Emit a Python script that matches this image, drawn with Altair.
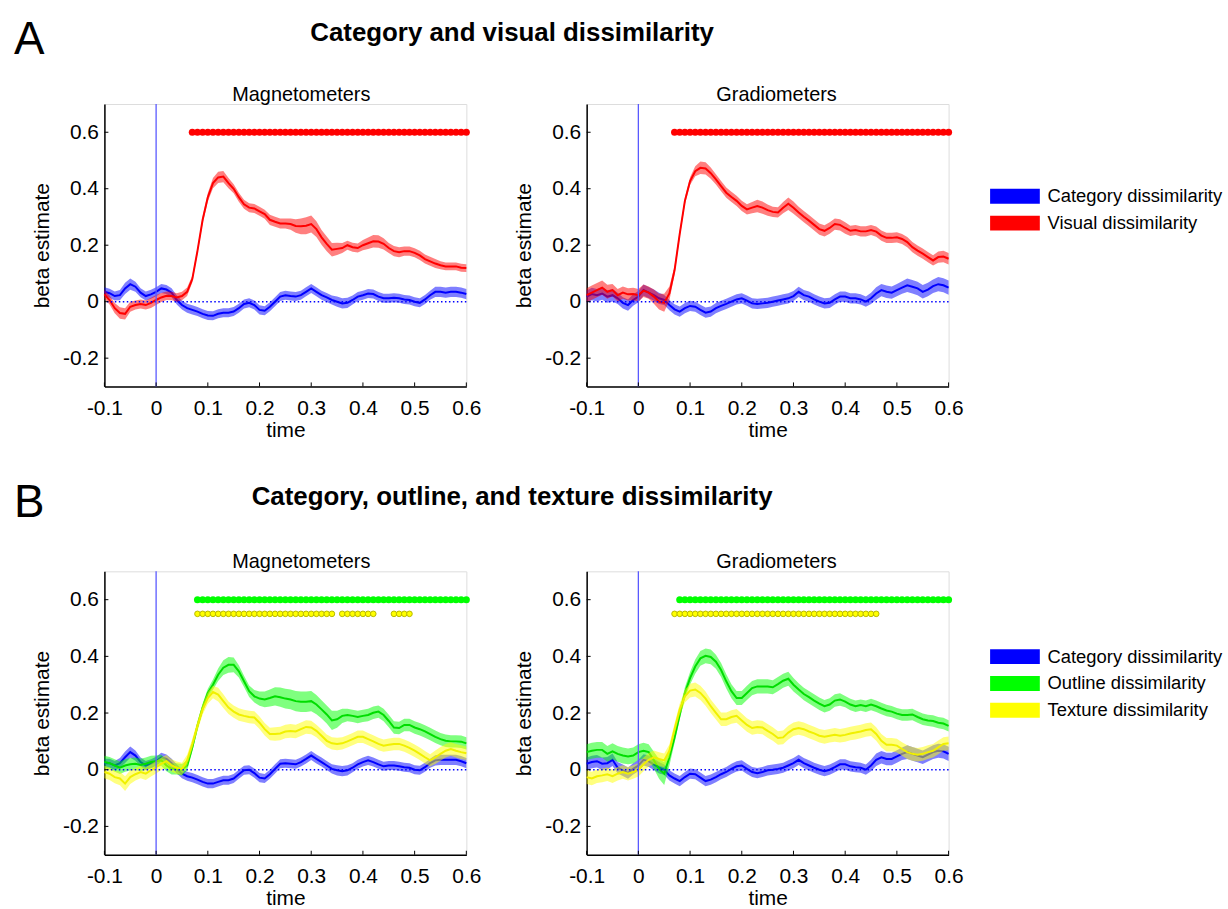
import altair as alt
import pandas as pd

# time grid (s)
T = [round(-0.10 + 0.01 * i, 2) for i in range(71)]

# ---------------- Panel A, magnetometers ----------------
A_MAG_CAT = [0.035, 0.030, 0.020, 0.023, 0.047, 0.062, 0.053, 0.032, 0.020, 0.026,
             0.035, 0.047, 0.043, 0.032, 0.006, -0.012, -0.023, -0.029, -0.035, -0.043,
             -0.049, -0.050, -0.043, -0.039, -0.039, -0.035, -0.023, -0.008, -0.004, -0.012,
             -0.029, -0.032, -0.018, 0.000, 0.018, 0.023, 0.020, 0.018, 0.023, 0.035,
             0.047, 0.035, 0.023, 0.015, 0.006, 0.000, -0.006, -0.004, 0.006, 0.018,
             0.023, 0.029, 0.027, 0.018, 0.012, 0.012, 0.014, 0.012, 0.008, 0.006,
             0.000, -0.004, 0.008, 0.023, 0.035, 0.035, 0.032, 0.035, 0.035, 0.032,
             0.027]
HW_A_MAG_CAT = [.016, .016, .016, .018, .020, .020, .018, .016, .016, .016,
                .016, .016, .016, .016, .016, .016, .016, .016, .016, .016,
                .016, .016, .016, .016, .016, .016, .016, .016, .016, .016,
                .016, .016, .016, .016, .016, .016, .016, .016, .016, .016,
                .016, .016, .016, .016, .016, .018, .018, .018, .016, .016,
                .016, .016, .016, .016, .016, .016, .016, .016, .016, .016,
                .016, .016, .016, .016, .018, .018, .018, .018, .018, .018,
                .018]
A_MAG_VIS = [0.026, 0.006, -0.023, -0.040, -0.043, -0.018, -0.012, -0.008, -0.012, -0.004,
             0.006, 0.015, 0.021, 0.020, 0.015, 0.020, 0.035, 0.080, 0.180, 0.290,
             0.370, 0.420, 0.440, 0.443, 0.420, 0.400, 0.370, 0.345, 0.333, 0.330,
             0.320, 0.310, 0.290, 0.283, 0.277, 0.277, 0.275, 0.268, 0.267, 0.269,
             0.275, 0.257, 0.228, 0.205, 0.184, 0.187, 0.190, 0.200, 0.193, 0.190,
             0.200, 0.207, 0.214, 0.213, 0.205, 0.190, 0.179, 0.175, 0.179, 0.179,
             0.173, 0.164, 0.151, 0.143, 0.135, 0.129, 0.125, 0.125, 0.125, 0.120,
             0.119]
HW_A_MAG_VIS = [.015, .016, .018, .020, .020, .018, .016, .016, .016, .018,
                .018, .016, .015, .015, .015, .015, .015, .012, .010, .012,
                .015, .018, .020, .020, .018, .016, .016, .016, .016, .016,
                .016, .016, .018, .018, .018, .018, .020, .024, .028, .030,
                .030, .028, .026, .026, .024, .022, .018, .016, .016, .016,
                .018, .020, .022, .022, .020, .018, .018, .018, .016, .016,
                .016, .016, .016, .016, .016, .014, .014, .014, .014, .014,
                .014]

# ---------------- Panel A, gradiometers ----------------
A_GRAD_CAT = [0.018, 0.027, 0.023, 0.029, 0.018, 0.023, 0.012, -0.004, -0.012, 0.006,
              0.018, 0.041, 0.032, 0.023, 0.012, 0.006, -0.012, -0.027, -0.035, -0.023,
              -0.015, -0.018, -0.029, -0.039, -0.035, -0.023, -0.015, -0.008, 0.000, 0.008,
              0.012, 0.004, -0.006, -0.008, -0.006, -0.004, 0.000, 0.004, 0.008, 0.012,
              0.020, 0.035, 0.023, 0.018, 0.008, 0.000, -0.006, -0.004, 0.008, 0.018,
              0.018, 0.012, 0.012, 0.008, 0.000, 0.012, 0.029, 0.041, 0.035, 0.032,
              0.041, 0.050, 0.058, 0.053, 0.047, 0.035, 0.043, 0.055, 0.062, 0.058,
              0.050]
HW_A_GRAD_CAT = [.022, .022, .022, .022, .022, .022, .020, .020, .020, .020,
                 .020, .020, .020, .020, .020, .018, .018, .018, .018, .018,
                 .018, .018, .018, .018, .018, .018, .018, .018, .018, .018,
                 .018, .018, .018, .018, .018, .018, .018, .018, .018, .018,
                 .018, .018, .018, .018, .018, .018, .018, .018, .018, .018,
                 .018, .018, .018, .018, .018, .020, .022, .022, .022, .022,
                 .022, .022, .024, .024, .024, .024, .024, .024, .025, .025,
                 .025]
A_GRAD_VIS = [0.023, 0.032, 0.041, 0.050, 0.035, 0.041, 0.023, 0.032, 0.026, 0.027,
              0.023, 0.039, 0.032, 0.018, 0.000, -0.004, 0.029, 0.111, 0.240, 0.357,
              0.427, 0.462, 0.474, 0.472, 0.455, 0.433, 0.409, 0.386, 0.371, 0.357,
              0.339, 0.327, 0.333, 0.339, 0.333, 0.324, 0.318, 0.316, 0.333, 0.347,
              0.333, 0.316, 0.301, 0.287, 0.272, 0.257, 0.251, 0.261, 0.275, 0.272,
              0.261, 0.251, 0.254, 0.249, 0.249, 0.254, 0.248, 0.234, 0.226, 0.226,
              0.228, 0.222, 0.211, 0.193, 0.181, 0.170, 0.158, 0.146, 0.158, 0.160,
              0.152]
HW_A_GRAD_VIS = [.025, .025, .025, .025, .025, .022, .022, .022, .022, .022,
                 .022, .022, .022, .025, .028, .032, .025, .015, .012, .012,
                 .014, .018, .022, .022, .020, .018, .018, .018, .018, .018,
                 .018, .018, .020, .022, .022, .020, .018, .018, .020, .022,
                 .022, .020, .020, .020, .020, .020, .020, .020, .020, .020,
                 .020, .018, .018, .018, .018, .018, .018, .018, .018, .018,
                 .018, .018, .018, .018, .018, .018, .018, .018, .020, .020,
                 .020]

# ---------------- Panel B, magnetometers ----------------
B_MAG_CAT = [0.023, 0.023, 0.015, 0.023, 0.044, 0.062, 0.050, 0.027, 0.015, 0.021,
             0.030, 0.044, 0.038, 0.023, 0.003, -0.014, -0.023, -0.028, -0.035, -0.043,
             -0.049, -0.049, -0.043, -0.037, -0.037, -0.031, -0.016, -0.002, 0.000, -0.012,
             -0.028, -0.031, -0.016, 0.003, 0.021, 0.023, 0.021, 0.019, 0.027, 0.038,
             0.050, 0.038, 0.027, 0.015, 0.003, -0.002, -0.005, -0.002, 0.007, 0.019,
             0.027, 0.033, 0.027, 0.019, 0.012, 0.015, 0.015, 0.012, 0.009, 0.007,
             0.000, -0.002, 0.009, 0.023, 0.033, 0.035, 0.035, 0.035, 0.035, 0.030,
             0.023]
HW_B_MAG_CAT = HW_A_MAG_CAT
B_MAG_OUT = [0.027, 0.023, 0.015, 0.007, 0.015, 0.019, 0.021, 0.017, 0.021, 0.027,
             0.030, 0.033, 0.015, 0.003, 0.003, 0.000, 0.015, 0.079, 0.155, 0.219,
             0.271, 0.300, 0.335, 0.360, 0.370, 0.370, 0.347, 0.312, 0.277, 0.259,
             0.251, 0.248, 0.253, 0.259, 0.256, 0.251, 0.248, 0.242, 0.240, 0.240,
             0.242, 0.230, 0.213, 0.195, 0.174, 0.178, 0.190, 0.193, 0.190, 0.186,
             0.190, 0.193, 0.201, 0.205, 0.193, 0.172, 0.149, 0.147, 0.158, 0.158,
             0.149, 0.143, 0.135, 0.126, 0.116, 0.108, 0.102, 0.100, 0.100, 0.099,
             0.093]
HW_B_MAG_OUT = [.022, .022, .022, .022, .022, .022, .022, .022, .022, .022,
                .020, .020, .020, .020, .020, .020, .018, .015, .015, .015,
                .015, .018, .022, .026, .028, .026, .022, .020, .020, .022,
                .025, .028, .030, .032, .034, .035, .035, .036, .036, .036,
                .036, .034, .032, .032, .034, .030, .025, .022, .022, .022,
                .022, .022, .022, .022, .022, .022, .022, .022, .022, .022,
                .022, .022, .022, .022, .022, .022, .022, .022, .022, .022,
                .022]
B_MAG_TEX = [-0.008, -0.014, -0.026, -0.031, -0.049, -0.026, -0.016, -0.008, -0.014, -0.002,
             0.009, 0.021, 0.030, 0.015, 0.007, 0.003, 0.033, 0.091, 0.155, 0.213,
             0.253, 0.274, 0.265, 0.242, 0.219, 0.205, 0.195, 0.190, 0.186, 0.184,
             0.166, 0.143, 0.126, 0.126, 0.128, 0.135, 0.137, 0.135, 0.143, 0.151,
             0.149, 0.137, 0.120, 0.102, 0.093, 0.091, 0.093, 0.100, 0.108, 0.116,
             0.116, 0.108, 0.100, 0.091, 0.085, 0.088, 0.091, 0.091, 0.085, 0.077,
             0.067, 0.056, 0.044, 0.033, 0.044, 0.056, 0.067, 0.073, 0.067, 0.062,
             0.058]
HW_B_MAG_TEX = [.022, .022, .022, .024, .026, .024, .022, .022, .022, .022,
                .022, .022, .022, .022, .022, .022, .020, .018, .018, .018,
                .020, .022, .024, .024, .022, .022, .022, .022, .022, .022,
                .022, .022, .022, .024, .024, .024, .024, .024, .024, .024,
                .024, .022, .022, .022, .022, .022, .022, .022, .022, .022,
                .022, .022, .022, .022, .022, .022, .022, .022, .022, .022,
                .022, .022, .022, .022, .024, .024, .024, .024, .024, .024,
                .024]

# ---------------- Panel B, gradiometers ----------------
B_GRAD_CAT = [0.021, 0.027, 0.030, 0.021, 0.023, 0.035, 0.007, -0.002, -0.012, 0.003,
              0.015, 0.035, 0.030, 0.019, 0.007, 0.000, -0.020, -0.031, -0.040, -0.026,
              -0.014, -0.016, -0.028, -0.040, -0.035, -0.026, -0.016, -0.008, 0.003, 0.012,
              0.015, 0.003, -0.008, -0.012, -0.008, -0.002, 0.000, 0.003, 0.007, 0.015,
              0.023, 0.035, 0.023, 0.015, 0.007, 0.000, -0.005, 0.000, 0.009, 0.019,
              0.019, 0.012, 0.009, 0.007, 0.000, 0.015, 0.035, 0.044, 0.038, 0.038,
              0.047, 0.056, 0.062, 0.056, 0.050, 0.044, 0.053, 0.062, 0.067, 0.065,
              0.056]
HW_B_GRAD_CAT = HW_A_GRAD_CAT
B_GRAD_OUT = [0.062, 0.067, 0.070, 0.070, 0.056, 0.065, 0.056, 0.050, 0.047, 0.050,
              0.062, 0.067, 0.062, 0.033, 0.003, -0.014, 0.044, 0.114, 0.195, 0.271,
              0.323, 0.364, 0.393, 0.402, 0.398, 0.381, 0.352, 0.312, 0.277, 0.253,
              0.253, 0.271, 0.288, 0.294, 0.294, 0.294, 0.291, 0.302, 0.314, 0.321,
              0.300, 0.283, 0.267, 0.256, 0.244, 0.233, 0.224, 0.230, 0.244, 0.248,
              0.240, 0.230, 0.224, 0.228, 0.224, 0.230, 0.224, 0.216, 0.209, 0.205,
              0.198, 0.193, 0.193, 0.195, 0.186, 0.178, 0.174, 0.172, 0.166, 0.163,
              0.155]
HW_B_GRAD_OUT = [.028, .028, .028, .028, .028, .028, .028, .028, .028, .028,
                 .028, .028, .028, .030, .035, .040, .030, .020, .018, .020,
                 .022, .025, .026, .026, .026, .025, .025, .025, .025, .025,
                 .025, .025, .025, .025, .025, .025, .025, .025, .025, .025,
                 .024, .022, .022, .022, .022, .022, .022, .022, .022, .022,
                 .020, .020, .020, .020, .020, .020, .020, .020, .020, .020,
                 .020, .020, .020, .020, .020, .020, .020, .020, .020, .020,
                 .020]
B_GRAD_TEX = [-0.026, -0.031, -0.023, -0.020, -0.016, -0.023, -0.014, -0.008, -0.014, -0.008,
              0.000, 0.019, 0.035, 0.044, 0.038, 0.033, 0.067, 0.143, 0.213, 0.259,
              0.279, 0.283, 0.271, 0.251, 0.224, 0.201, 0.178, 0.178, 0.186, 0.190,
              0.174, 0.158, 0.147, 0.151, 0.149, 0.137, 0.126, 0.112, 0.114, 0.131,
              0.143, 0.147, 0.143, 0.135, 0.128, 0.120, 0.116, 0.120, 0.123, 0.120,
              0.123, 0.128, 0.131, 0.135, 0.140, 0.143, 0.126, 0.102, 0.088, 0.088,
              0.085, 0.073, 0.062, 0.056, 0.053, 0.056, 0.062, 0.067, 0.079, 0.091,
              0.093]
HW_B_GRAD_TEX = [.024, .024, .024, .024, .024, .024, .024, .024, .024, .024,
                 .024, .024, .024, .024, .024, .024, .022, .020, .020, .022,
                 .024, .025, .025, .025, .024, .024, .024, .024, .024, .024,
                 .024, .024, .024, .024, .024, .024, .024, .024, .024, .024,
                 .024, .024, .024, .024, .024, .024, .024, .024, .024, .024,
                 .024, .024, .024, .024, .024, .024, .024, .024, .024, .024,
                 .024, .024, .024, .024, .024, .024, .024, .024, .024, .024,
                 .024]

# significant time windows (start, end) in s
SIG_A_MAG_VIS = [(0.07, 0.60)]
SIG_A_GRAD_VIS = [(0.07, 0.60)]
SIG_B_MAG_OUT = [(0.08, 0.60)]
SIG_B_MAG_TEX = [(0.08, 0.34), (0.36, 0.42), (0.46, 0.49)]
SIG_B_GRAD_OUT = [(0.08, 0.60)]
SIG_B_GRAD_TEX = [(0.07, 0.46)]

X_TICKS = [-0.1, 0.0, 0.1, 0.2, 0.3, 0.4, 0.5, 0.6]
Y_TICKS = [-0.2, 0.0, 0.2, 0.4, 0.6]

CAT, VIS, OUT, TEX = ("Category dissimilarity", "Visual dissimilarity",
                      "Outline dissimilarity", "Texture dissimilarity")
BAND_COL = {CAT: "#0000ff", VIS: "#ff0000", OUT: "#00ff00", TEX: "#ffff00"}
LINE_COL = {CAT: "#0000ff", VIS: "#ff0000", OUT: "#00dd00", TEX: "#f0f000"}

FONT = "Liberation Sans"
W = 364

LABEL_EXPR = ("datum.value == 0 ? '0' : (datum.value < 0 ? '-' + format(-datum.value, '.1f')"
              " : format(datum.value, '.1f'))")


def sig_times(windows):
    out = []
    for t in T:
        for a, b in windows:
            if a - 1e-9 <= t <= b + 1e-9:
                out.append(t)
    return out


def panel(series, dots, H, title_text, title_dx, row_domain, legend_xy, extra_text=None):
    xs = alt.Scale(domain=[-0.1, 0.6], nice=False, zero=False)
    ys = alt.Scale(domain=[-0.3, 0.7], nice=False, zero=False)
    xaxis = alt.Axis(values=X_TICKS, labelExpr=LABEL_EXPR, ticks=False, tickSize=0, grid=False,
                     title="time", titleX=W / 2, titleY=50, titleBaseline="alphabetic",
                     titleAlign="center", labelPadding=28, labelBaseline="alphabetic",
                     labelFlush=False, labelOverlap=False)
    yaxis = alt.Axis(values=Y_TICKS, labelExpr=LABEL_EXPR, ticks=False, tickSize=0, grid=False,
                     title="beta estimate", titleX=-56, titleY=H / 2, titleAngle=270,
                     titleBaseline="alphabetic", titleAlign="center", labelPadding=6,
                     labelAlign="right", labelBaseline="middle", labelFlush=False,
                     labelOverlap=False)
    legend = alt.Legend(title=None, orient="none", legendX=legend_xy[0], legendY=legend_xy[1],
                        symbolType="M-3.333,-1H3.333V1H-3.333Z", symbolSize=225,
                        symbolOpacity=1, symbolStrokeWidth=0, labelFontSize=18.5,
                        labelFont=FONT, labelColor="black", labelOffset=23.5, rowPadding=8,
                        padding=0, labelLimit=400)
    cscale = alt.Scale(domain=row_domain, range=[BAND_COL[s] for s in row_domain])

    layers = []
    first = True
    for name, mean, hw in series:
        df = pd.DataFrame({"t": T, "m": mean,
                           "lo": [m - h for m, h in zip(mean, hw)],
                           "hi": [m + h for m, h in zip(mean, hw)],
                           "series": name})
        if first:
            xenc = alt.X("t:Q", scale=xs, axis=xaxis)
            yenc = alt.Y("lo:Q", scale=ys, axis=yaxis)
            first = False
        else:
            xenc = alt.X("t:Q", scale=xs)
            yenc = alt.Y("lo:Q", scale=ys)
        band = alt.Chart(df).mark_area(opacity=0.5).encode(
            x=xenc, y=yenc, y2="hi:Q",
            color=alt.Color("series:N", scale=cscale, legend=legend))
        line = alt.Chart(df).mark_line(color=LINE_COL[name], strokeWidth=2).encode(
            x=alt.X("t:Q", scale=xs), y=alt.Y("m:Q", scale=ys))
        layers += [band, line]

    zero = alt.Chart(pd.DataFrame({"v": [0.0]})).mark_rule(
        color="#0000ff", strokeWidth=1.5, strokeDash=[1.5, 2.5]).encode(y=alt.Y("v:Q", scale=ys))
    vline = alt.Chart(pd.DataFrame({"v": [0.0]})).mark_rule(
        color="#5a5aff", strokeWidth=1.3).encode(x=alt.X("v:Q", scale=xs))
    layers += [zero, vline]

    for times, level, kind in dots:
        ddf = pd.DataFrame({"t": times, "y": [level] * len(times)})
        if kind == TEX:
            mk = alt.Chart(ddf).mark_circle(size=32, opacity=1, color="#ffff00",
                                            stroke="#b8b800", strokeWidth=1)
        else:
            mk = alt.Chart(ddf).mark_circle(size=50, opacity=1, color=BAND_COL[kind])
        layers.append(mk.encode(x=alt.X("t:Q", scale=xs), y=alt.Y("y:Q", scale=ys)))

    xt = alt.Chart(pd.DataFrame({"v": X_TICKS})).mark_rule(color="black", strokeWidth=1).encode(
        x=alt.X("v:Q", scale=xs), y=alt.value(H), y2=alt.value(H - 4))
    yt = alt.Chart(pd.DataFrame({"v": Y_TICKS})).mark_rule(color="black", strokeWidth=1).encode(
        y=alt.Y("v:Q", scale=ys), x=alt.value(0), x2=alt.value(4))
    layers += [xt, yt]

    ttl = alt.Chart(pd.DataFrame({"s": [title_text]})).mark_text(
        font=FONT, fontSize=20, align="center", baseline="alphabetic", color="black").encode(
        text="s:N", x=alt.value(W / 2 + title_dx), y=alt.value(-3))
    layers.append(ttl)

    if extra_text:
        for txt, x, y, size, weight, align in extra_text:
            layers.append(alt.Chart(pd.DataFrame({"s": [txt]})).mark_text(
                font=FONT, fontSize=size, fontWeight=weight, align=align,
                baseline="alphabetic", color="black").encode(
                text="s:N", x=alt.value(x), y=alt.value(y)))

    return alt.layer(*layers).properties(width=W, height=H)


HA, HB = 284, 285
LEG_A = (906.5, 83.5)
LEG_B = (906.5, 76.5)

a_left = panel([(CAT, A_MAG_CAT, HW_A_MAG_CAT), (VIS, A_MAG_VIS, HW_A_MAG_VIS)],
               [(sig_times(SIG_A_MAG_VIS), 0.6, VIS)], HA, "Magnetometers", 16, [CAT, VIS], LEG_A,
               extra_text=[("A", -91, -50, 46, "normal", "left"),
                           ("Category and visual dissimilarity", 410, -63, 26, "bold", "center")])
a_right = panel([(CAT, A_GRAD_CAT, HW_A_GRAD_CAT), (VIS, A_GRAD_VIS, HW_A_GRAD_VIS)],
                [(sig_times(SIG_A_GRAD_VIS), 0.6, VIS)], HA, "Gradiometers", 9, [CAT, VIS], LEG_A)
b_left = panel([(CAT, B_MAG_CAT, HW_B_MAG_CAT), (OUT, B_MAG_OUT, HW_B_MAG_OUT),
                (TEX, B_MAG_TEX, HW_B_MAG_TEX)],
               [(sig_times(SIG_B_MAG_OUT), 0.6, OUT), (sig_times(SIG_B_MAG_TEX), 0.55, TEX)],
               HB, "Magnetometers", 16, [CAT, OUT, TEX], LEG_B,
               extra_text=[("B", -91, -55, 46, "normal", "left"),
                           ("Category, outline, and texture dissimilarity", 410, -67, 26, "bold",
                            "center")])
b_right = panel([(CAT, B_GRAD_CAT, HW_B_GRAD_CAT), (OUT, B_GRAD_OUT, HW_B_GRAD_OUT),
                 (TEX, B_GRAD_TEX, HW_B_GRAD_TEX)],
                [(sig_times(SIG_B_GRAD_OUT), 0.6, OUT), (sig_times(SIG_B_GRAD_TEX), 0.55, TEX)],
                HB, "Gradiometers", 9, [CAT, OUT, TEX], LEG_B)

row_a = alt.hconcat(a_left, a_right, spacing=121, bounds="flush").resolve_scale(
    x="independent", y="independent")
row_b = alt.hconcat(b_left, b_right, spacing=121, bounds="flush").resolve_scale(
    x="independent", y="independent")

chart = alt.vconcat(row_a, row_b, spacing=HA + 186, bounds="flush").resolve_scale(
    color="independent", x="independent", y="independent").properties(
    padding={"left": 13, "top": 14, "right": 5, "bottom": 2}
).configure_view(stroke=None).configure(
    font=FONT, background="white"
).configure_axis(
    domainColor="black", domainWidth=1.5, labelFont=FONT, labelFontSize=21, labelColor="black",
    titleFont=FONT, titleFontSize=21, titleFontWeight="normal", titleColor="black"
)

chart.save("out.html", embed_options={"renderer": "svg", "actions": False})
